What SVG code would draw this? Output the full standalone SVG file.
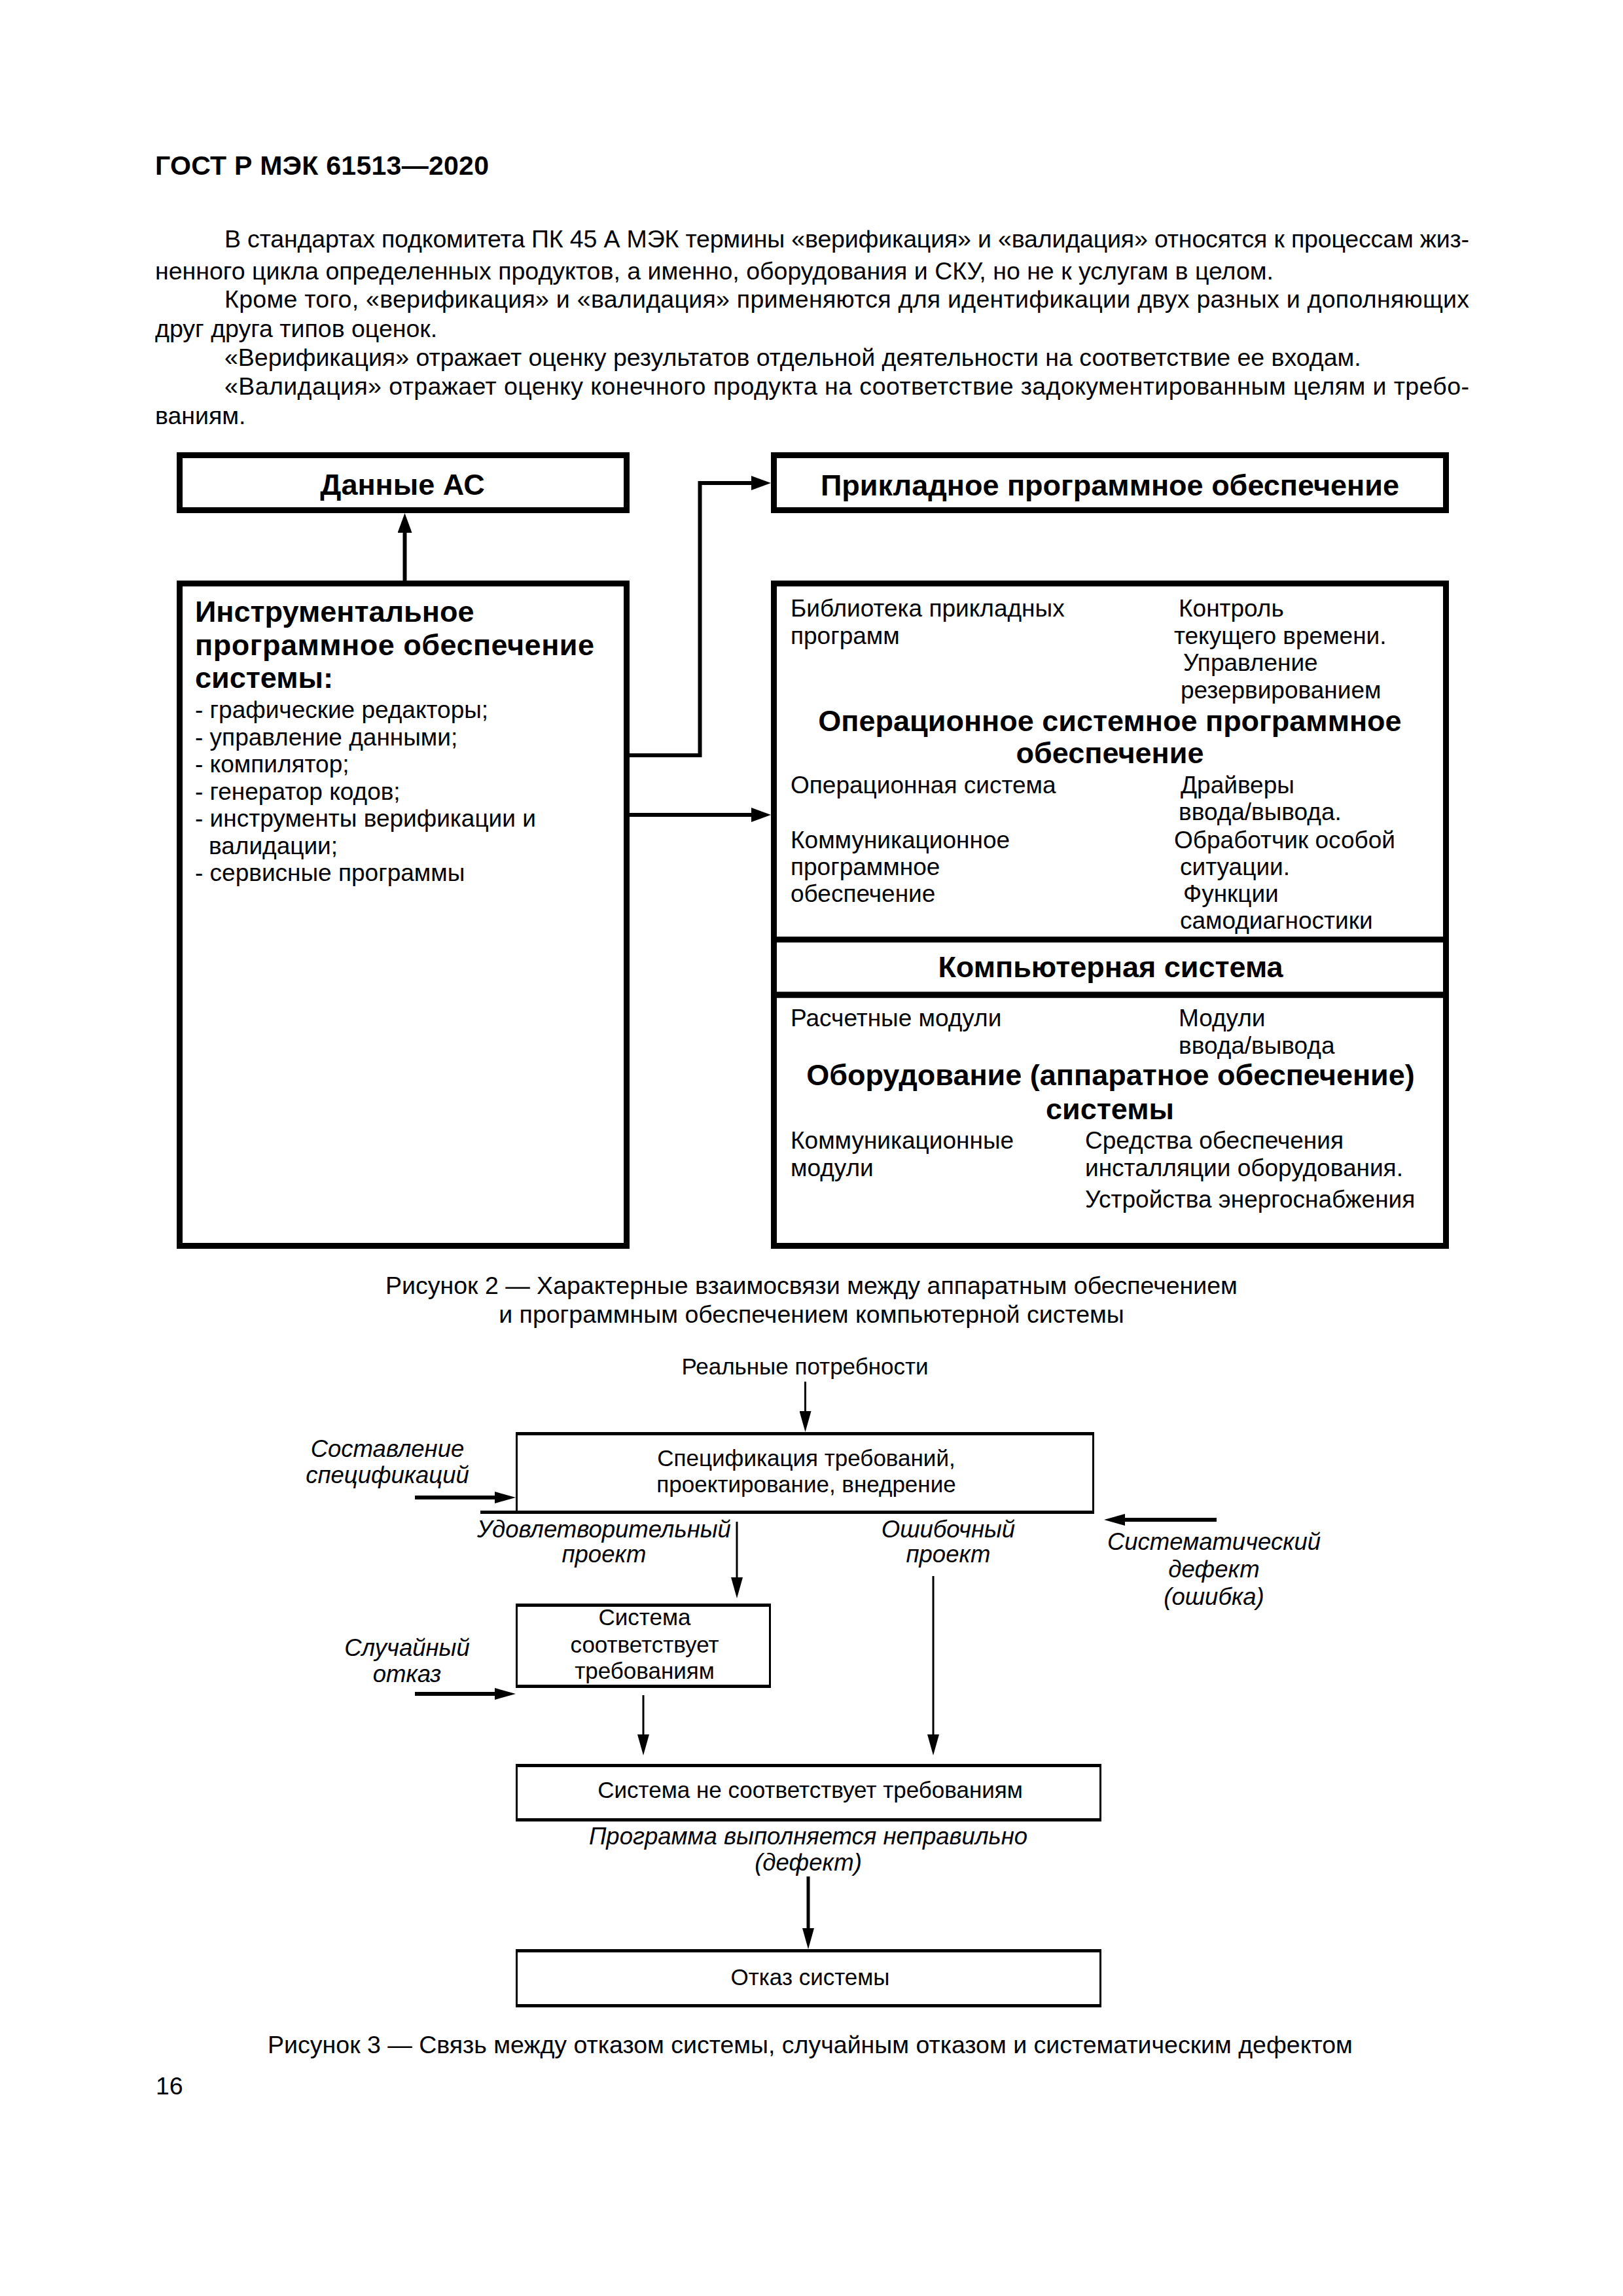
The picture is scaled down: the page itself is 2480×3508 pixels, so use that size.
<svg xmlns="http://www.w3.org/2000/svg" width="2480" height="3508" viewBox="0 0 2480 3508">
<style>
text{font-family:"Liberation Sans",Arial,sans-serif;fill:#000}
.h{font-weight:bold;font-size:41px}
.p{font-size:37.5px}
.bh{font-weight:bold;font-size:45px}
.r{font-size:37px}
.f3{font-size:35px}
.it{font-size:36.5px;font-style:italic}
.c{text-anchor:middle}
.box2{fill:none;stroke:#000;stroke-width:9}
.side{fill:none;stroke:#000;stroke-width:3}
.edge{stroke:#000;stroke-width:5;fill:none}
.ln{stroke:#000;fill:none}
.w6{stroke-width:6}
.w3{stroke-width:3}
</style>
<defs>
<marker id="a2" markerUnits="userSpaceOnUse" markerWidth="30" markerHeight="22" refX="1" refY="11" orient="auto"><path d="M0,0 L30,11 L0,22 z" fill="#000"/></marker>
<marker id="a3" markerUnits="userSpaceOnUse" markerWidth="32" markerHeight="18" refX="1" refY="9" orient="auto"><path d="M0,0 L32,9 L0,18 z" fill="#000"/></marker>
</defs>
<rect width="2480" height="3508" fill="#fff"/>

<g id="page-text">
<text class="h" x="237" y="267" textLength="510" lengthAdjust="spacing">ГОСТ Р МЭК 61513—2020</text>
<text class="p" x="343" y="378" textLength="1902" lengthAdjust="spacing">В стандартах подкомитета ПК 45 А МЭК термины «верификация» и «валидация» относятся к процессам жиз-</text>
<text class="p" x="237" y="427">ненного цикла определенных продуктов, а именно, оборудования и СКУ, но не к услугам в целом.</text>
<text class="p" x="343" y="470" textLength="1902" lengthAdjust="spacing">Кроме того, «верификация» и «валидация» применяются для идентификации двух разных и дополняющих</text>
<text class="p" x="237" y="515">друг друга типов оценок.</text>
<text class="p" x="343" y="559">«Верификация» отражает оценку результатов отдельной деятельности на соответствие ее входам.</text>
<text class="p" x="343" y="603" textLength="1902" lengthAdjust="spacing">«Валидация» отражает оценку конечного продукта на соответствие задокументированным целям и требо-</text>
<text class="p" x="237" y="648">ваниям.</text>
</g>

<g id="fig2-connectors">
<line class="ln w6" x1="618.5" y1="887" x2="618.5" y2="813" marker-end="url(#a2)"/>
<polyline class="ln w6" points="962,1154 1069.5,1154 1069.5,738 1149,738" marker-end="url(#a2)"/>
<line class="ln w6" x1="962" y1="1245" x2="1149" y2="1245" marker-end="url(#a2)"/>
</g>

<g id="node-dannye-as">
<rect class="box2" x="274.5" y="695.5" width="683" height="84"/>
<text class="bh c" x="615" y="756">Данные АС</text>
</g>

<g id="node-prikladnoe">
<rect class="box2" x="1182.5" y="695.5" width="1027" height="84"/>
<text class="bh c" x="1696" y="757">Прикладное программное обеспечение</text>
</g>

<g id="node-instrumentalnoe">
<rect class="box2" x="274.5" y="891.5" width="683" height="1012"/>
<text class="bh" x="298" y="950">Инструментальное</text>
<text class="bh" x="298" y="1001" textLength="610" lengthAdjust="spacing">программное обеспечение</text>
<text class="bh" x="298" y="1051">системы:</text>
<text class="r" x="298" y="1097">- графические редакторы;</text>
<text class="r" x="298" y="1139">- управление данными;</text>
<text class="r" x="298" y="1180">- компилятор;</text>
<text class="r" x="298" y="1222">- генератор кодов;</text>
<text class="r" x="298" y="1263">- инструменты верификации и</text>
<text class="r" x="319" y="1305">валидации;</text>
<text class="r" x="298" y="1346">- сервисные программы</text>
</g>

<g id="node-os">
<rect class="box2" x="1182.5" y="891.5" width="1027" height="544"/>
<text class="r" x="1208" y="942">Библиотека прикладных</text>
<text class="r" x="1208" y="984">программ</text>
<text class="r" x="1801" y="942">Контроль</text>
<text class="r" x="1794" y="984">текущего времени.</text>
<text class="r" x="1808" y="1025">Управление</text>
<text class="r" x="1804" y="1067">резервированием</text>
<text class="bh c" x="1696" y="1117">Операционное системное программное</text>
<text class="bh c" x="1696" y="1166">обеспечение</text>
<text class="r" x="1208" y="1212">Операционная система</text>
<text class="r" x="1804" y="1212">Драйверы</text>
<text class="r" x="1801" y="1253">ввода/вывода.</text>
<text class="r" x="1208" y="1296">Коммуникационное</text>
<text class="r" x="1794" y="1296">Обработчик особой</text>
<text class="r" x="1208" y="1337">программное</text>
<text class="r" x="1803" y="1337">ситуации.</text>
<text class="r" x="1208" y="1378">обеспечение</text>
<text class="r" x="1808" y="1378">Функции</text>
<text class="r" x="1803" y="1419">самодиагностики</text>
</g>

<g id="node-computer">
<rect class="box2" x="1182.5" y="1435.5" width="1027" height="84.5"/>
<text class="bh c" x="1697" y="1493">Компьютерная система</text>
</g>

<g id="node-hardware">
<rect class="box2" x="1182.5" y="1520" width="1027" height="383.5"/>
<text class="r" x="1208" y="1568">Расчетные модули</text>
<text class="r" x="1801" y="1568">Модули</text>
<text class="r" x="1801" y="1610">ввода/вывода</text>
<text class="bh c" x="1697" y="1658">Оборудование (аппаратное обеспечение)</text>
<text class="bh c" x="1696" y="1710">системы</text>
<text class="r" x="1208" y="1755">Коммуникационные</text>
<text class="r" x="1208" y="1797">модули</text>
<text class="r" x="1658" y="1755">Средства обеспечения</text>
<text class="r" x="1658" y="1797">инсталляции оборудования.</text>
<text class="r" x="1658" y="1845">Устройства энергоснабжения</text>
</g>

<g id="caption2">
<text class="p c" x="1240" y="1977">Рисунок 2 — Характерные взаимосвязи между аппаратным обеспечением</text>
<text class="p c" x="1240" y="2021">и программным обеспечением компьютерной системы</text>
</g>

<g id="fig3-connectors">
<line class="ln w3" x1="1230.5" y1="2111" x2="1230.5" y2="2157" marker-end="url(#a3)"/>
<line class="ln w6" x1="634" y1="2288" x2="757" y2="2288" marker-end="url(#a3)"/>
<line class="ln w6" x1="1859" y1="2322" x2="1718" y2="2322" marker-end="url(#a3)"/>
<line class="ln w3" x1="1126" y1="2325" x2="1126" y2="2411" marker-end="url(#a3)"/>
<line class="ln w3" x1="1426" y1="2408" x2="1426" y2="2651" marker-end="url(#a3)"/>
<line class="ln w6" x1="634" y1="2588" x2="757" y2="2588" marker-end="url(#a3)"/>
<line class="ln w3" x1="983" y1="2590" x2="983" y2="2651" marker-end="url(#a3)"/>
<line class="ln" stroke-width="5" x1="1235" y1="2867" x2="1235" y2="2947" marker-end="url(#a3)"/>
</g>

<g id="fig3-labels">
<text class="f3 c" x="1230" y="2100">Реальные потребности</text>
<text class="it c" x="592" y="2226">Составление</text>
<text class="it c" x="592" y="2266">спецификаций</text>
<text class="it c" x="1855" y="2368">Систематический</text>
<text class="it c" x="1855" y="2410">дефект</text>
<text class="it c" x="1855" y="2452">(ошибка)</text>
<text class="it c" x="923" y="2349">Удовлетворительный</text>
<text class="it c" x="923" y="2387">проект</text>
<text class="it c" x="1449" y="2349">Ошибочный</text>
<text class="it c" x="1449" y="2387">проект</text>
<text class="it c" x="622" y="2530">Случайный</text>
<text class="it c" x="622" y="2570">отказ</text>
<text class="it c" x="1235" y="2818">Программа выполняется неправильно</text>
<text class="it c" x="1235" y="2858">(дефект)</text>
</g>

<g id="node-spec">
<rect class="side" x="789.5" y="2190.5" width="881" height="120"/>
<line class="edge" x1="788" y1="2190.5" x2="1672" y2="2190.5"/>
<line class="edge" x1="734" y1="2310.5" x2="1672" y2="2310.5"/>
<text class="f3 c" x="1232" y="2240">Спецификация требований,</text>
<text class="f3 c" x="1232" y="2280">проектирование, внедрение</text>
</g>

<g id="node-sootv">
<rect class="side" x="789.5" y="2452.5" width="387" height="124"/>
<line class="edge" x1="788" y1="2452.5" x2="1178" y2="2452.5"/>
<line class="edge" x1="788" y1="2576.5" x2="1178" y2="2576.5"/>
<text class="f3 c" x="985" y="2483">Система</text>
<text class="f3 c" x="985" y="2525">соответствует</text>
<text class="f3 c" x="985" y="2565">требованиям</text>
</g>

<g id="node-nesootv">
<rect class="side" x="789.5" y="2697.5" width="892" height="83"/>
<line class="edge" x1="788" y1="2697.5" x2="1683" y2="2697.5"/>
<line class="edge" x1="788" y1="2780.5" x2="1683" y2="2780.5"/>
<text class="f3 c" x="1238" y="2747">Система не соответствует требованиям</text>
</g>

<g id="node-otkaz">
<rect class="side" x="789.5" y="2980.5" width="892" height="84"/>
<line class="edge" x1="788" y1="2980.5" x2="1683" y2="2980.5"/>
<line class="edge" x1="788" y1="3064.5" x2="1683" y2="3064.5"/>
<text class="f3 c" x="1238" y="3033">Отказ системы</text>
</g>

<g id="caption3">
<text class="p c" x="1238" y="3137">Рисунок 3 — Связь между отказом системы, случайным отказом и систематическим дефектом</text>
<text class="p" x="238" y="3200">16</text>
</g>
</svg>
